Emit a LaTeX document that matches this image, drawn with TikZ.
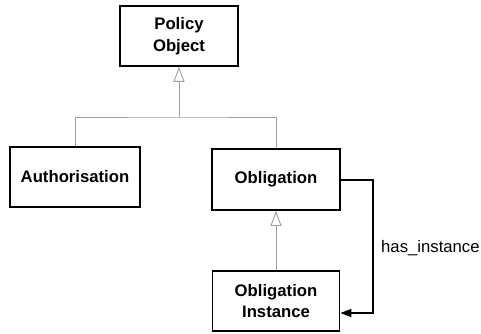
\documentclass[tikz,border=0pt]{standalone}
\usepackage{fontspec}
\setmainfont{Liberation Sans}
\usetikzlibrary{arrows.meta}
\usetikzlibrary{positioning}

\tikzset{
  cls/.style={draw, line width=1.8pt, inner sep=0pt, align=center,
    font=\fontsize{16.7}{21.5}\selectfont\bfseries},
  conn/.style={draw=gray!75, line width=0.8pt},
  inherit/.style={conn, -{Triangle[open, length=15pt, width=11pt, line width=0.9pt]}},
  assoc/.style={draw, line width=1.6pt, -{Triangle[length=11pt, width=8pt]}}
}

\begin{document}
\begin{tikzpicture}[x=1pt, y=-1pt]
    \useasboundingbox (0,0) rectangle (481,334);
    \node[cls, minimum width=118pt, minimum height=60pt] (policy) at (179,36) {Policy\\Object} ; %
    \node[cls, minimum width=130pt, minimum height=60pt] (auth) at (75,177) {Authorisation} ; %
    \node[cls, minimum width=128pt, minimum height=61pt] (obl) at (276,179.5) {Obligation} ; %
    \node[cls, minimum width=127pt, minimum height=60pt] (inst) at (276,301) {Obligation\\Instance} ; %
    \coordinate (bus) at (179,117) ; %
    \coordinate (turn) at (373,180) ; %
    \draw[conn] (auth.north) |- (bus) -| (obl.north) ;
    \draw[inherit] (bus) -- (policy.south) ;
    \draw[inherit] (inst.north) -- (obl.south) ;
    \draw[assoc] (obl.east |- turn) -- (turn) |- ([yshift=-12pt]inst.east) ;
    \node[anchor=west, inner sep=0pt, font=\fontsize{16.7}{20}\selectfont] (lbl) at (381,248) {has\_instance} ; %
\end{tikzpicture}
\end{document}
